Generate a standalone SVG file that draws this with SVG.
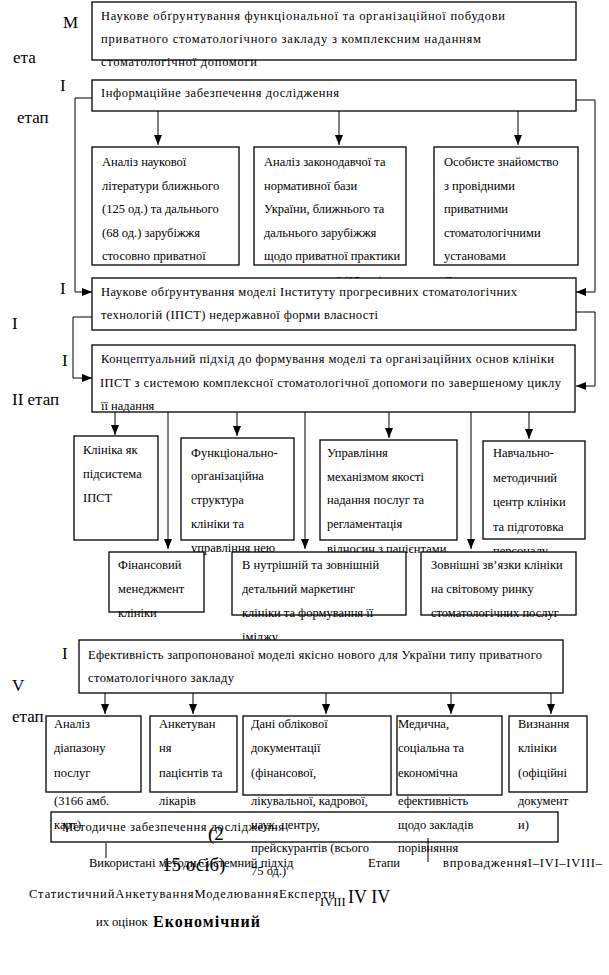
<svg xmlns="http://www.w3.org/2000/svg" width="609" height="975" viewBox="0 0 609 975">
<defs>
<style>
.t{font-family:"Liberation Serif","Times New Roman",serif;font-size:12.5px;fill:#000}
.s{font-family:"Liberation Serif","Times New Roman",serif;font-size:17px;fill:#000}
.b{fill:#fff;stroke:#000;stroke-width:1.3}
.o{fill:none;stroke:#000;stroke-width:1.3}
.l{fill:none;stroke:#000;stroke-width:1}
</style>
<marker id="a" viewBox="0 0 10 8" refX="10" refY="4" markerWidth="10" markerHeight="8" orient="auto" markerUnits="userSpaceOnUse"><path d="M0,0 L10,4 L0,8 z" fill="#000"/></marker>
</defs>
<rect width="609" height="975" fill="#fff"/>

<g id="side-labels">
<text class="s" x="63" y="28">М</text>
<text class="s" x="13" y="63">ета</text>
<text class="s" x="60" y="91">І</text>
<text class="s" x="17" y="123">етап</text>
<text class="s" x="60" y="294">І</text>
<text class="s" x="12" y="329">І</text>
<text class="s" x="62" y="366">І</text>
<text class="s" x="12" y="405">ІІ етап</text>
<text class="s" x="62" y="659">І</text>
<text class="s" x="12" y="691">V</text>
<text class="s" x="12" y="722">етап</text>
</g>

<g id="connectors">
<path class="l" d="M92,98 H75 V292 H92" marker-end="url(#a)"/>
<path class="l" d="M576,100 H595 V292 H576" marker-end="url(#a)"/>
<path class="l" d="M158,110 V145" marker-end="url(#a)"/>
<path class="l" d="M339,110 V145" marker-end="url(#a)"/>
<path class="l" d="M518,110 V145" marker-end="url(#a)"/>
<path class="l" d="M92,317 H73 V378 H92" marker-end="url(#a)"/>
<path class="l" d="M576,312 H595 V386 H576" marker-end="url(#a)"/>
<path class="l" d="M115,412 V435" marker-end="url(#a)"/>
<path class="l" d="M168,412 V549" marker-end="url(#a)"/>
<path class="l" d="M237,412 V436" marker-end="url(#a)"/>
<path class="l" d="M305,412 V549" marker-end="url(#a)"/>
<path class="l" d="M389,412 V438" marker-end="url(#a)"/>
<path class="l" d="M471,412 V549" marker-end="url(#a)"/>
<path class="l" d="M529,412 V439" marker-end="url(#a)"/>
<path class="l" d="M105,693 V714" marker-end="url(#a)"/>
<path class="l" d="M193,693 V714" marker-end="url(#a)"/>
<path class="l" d="M326,693 V714" marker-end="url(#a)"/>
<path class="l" d="M451,693 V714" marker-end="url(#a)"/>
<path class="l" d="M551,693 V714" marker-end="url(#a)"/>
<path class="l" d="M106,843 V858"/>
<path class="l" d="M428,838 V862"/>
</g>

<g id="n1">
<rect class="b" x="92" y="2" width="484" height="58"/>
<text class="t" x="101" y="20" textLength="404" lengthAdjust="spacing">Наукове обґрунтування функціональної та організаційної побудови</text>
<text class="t" x="101" y="43" textLength="380" lengthAdjust="spacing">приватного стоматологічного закладу з комплексним наданням</text>
<text class="t" x="101" y="66" textLength="156" lengthAdjust="spacing">стоматологічної допомоги</text>
</g>

<g id="n2">
<rect class="b" x="92" y="80" width="484" height="31"/>
<text class="t" x="101" y="97" textLength="238" lengthAdjust="spacing">Інформаційне забезпечення дослідження</text>
</g>

<g id="n2a">
<rect class="b" x="92" y="147" width="147" height="118"/>
<text class="t" x="102" y="166">Аналіз наукової</text>
<text class="t" x="102" y="190">літератури ближнього</text>
<text class="t" x="102" y="213">(125 од.) та дальнього</text>
<text class="t" x="102" y="237">(68 од.) зарубіжжя</text>
<text class="t" x="102" y="260">стосовно приватної</text>
</g>

<g id="n2b">
<rect class="b" x="254" y="147" width="152" height="118"/>
<text class="t" x="264" y="166">Аналіз законодавчої та</text>
<text class="t" x="264" y="190">нормативної бази</text>
<text class="t" x="264" y="213">України, ближнього та</text>
<text class="t" x="264" y="237">дальнього зарубіжжя</text>
<text class="t" x="264" y="260">щодо приватної практики</text>
<text class="t" x="337" y="285">ї (25 од.)</text>
</g>

<g id="n2c">
<rect class="b" x="434" y="147" width="144" height="118"/>
<text class="t" x="444" y="166">Особисте знайомство</text>
<text class="t" x="444" y="190">з провідними</text>
<text class="t" x="444" y="213">приватними</text>
<text class="t" x="444" y="237">стоматологічними</text>
<text class="t" x="444" y="260">установами</text>
<text class="t" x="444" y="285">С</text>
</g>

<g id="n3">
<rect class="b" x="92" y="278" width="484" height="52"/>
<text class="t" x="101" y="296" textLength="416" lengthAdjust="spacing">Наукове обґрунтування моделі Інституту прогресивних  стоматологічних</text>
<text class="t" x="101" y="319" textLength="277" lengthAdjust="spacing">технологій (ІПСТ) недержавної форми власності</text>
</g>

<g id="n4">
<rect class="b" x="92" y="345" width="483" height="67"/>
<text class="t" x="101" y="363" textLength="453" lengthAdjust="spacing">Концептуальний підхід до формування моделі та організаційних  основ клініки</text>
<text class="t" x="100" y="387" textLength="461" lengthAdjust="spacing">ІПСТ з  системою комплексної стоматологічної допомоги по завершеному циклу</text>
<text class="t" x="101" y="410">її надання</text>
</g>

<g id="n5a">
<rect class="b" x="74" y="436" width="84" height="104"/>
<text class="t" x="83" y="454">Клініка як</text>
<text class="t" x="83" y="478">підсистема</text>
<text class="t" x="83" y="502">ІПСТ</text>
</g>

<g id="n5b">
<rect class="b" x="181" y="438" width="113" height="102"/>
<text class="t" x="191" y="457">Функціонально-</text>
<text class="t" x="191" y="480">організаційна</text>
<text class="t" x="191" y="504">структура</text>
<text class="t" x="191" y="528">клініки та</text>
<text class="t" x="191" y="552">управління нею</text>
</g>

<g id="n5c">
<rect class="b" x="320" y="440" width="137" height="100"/>
<text class="t" x="327" y="457">Управління</text>
<text class="t" x="327" y="481">механізмом якості</text>
<text class="t" x="327" y="504">надання послуг та</text>
<text class="t" x="327" y="528">регламентація</text>
<text class="t" x="327" y="553">відносин з пацієнтами</text>
</g>

<g id="n5d">
<rect class="b" x="483" y="441" width="102" height="98"/>
<text class="t" x="493" y="457">Навчально-</text>
<text class="t" x="493" y="482">методичний</text>
<text class="t" x="493" y="506">центр клініки</text>
<text class="t" x="493" y="531">та підготовка</text>
<text class="t" x="493" y="555">персоналу</text>
</g>

<g id="n6a">
<rect class="b" x="109" y="552" width="95" height="60"/>
<text class="t" x="118" y="569">Фінансовий</text>
<text class="t" x="118" y="593">менеджмент</text>
<text class="t" x="118" y="617">клініки</text>
</g>

<g id="n6b">
<rect class="b" x="232" y="552" width="174" height="63"/>
<text class="t" x="242" y="569">В нутрішній та зовнішній</text>
<text class="t" x="242" y="593">детальний маркетинг</text>
<text class="t" x="242" y="617">клініки та формування її</text>
<text class="t" x="242" y="641">іміджу</text>
</g>

<g id="n6c">
<rect class="b" x="421" y="552" width="155" height="63"/>
<text class="t" x="431" y="569">Зовнішні зв’язки клініки</text>
<text class="t" x="431" y="593">на світовому ринку</text>
<text class="t" x="431" y="617">стоматологічних  послуг</text>
</g>

<g id="n7">
<rect class="b" x="79" y="640" width="484" height="53"/>
<text class="t" x="88" y="659" textLength="454" lengthAdjust="spacing">Ефективність запропонованої моделі якісно нового для України типу приватного</text>
<text class="t" x="88" y="682" textLength="146" lengthAdjust="spacing">стоматологічного закладу</text>
</g>

<g id="n8a">
<rect class="b" x="46" y="716" width="95" height="76"/>
<text class="t" x="54" y="728">Аналіз</text>
<text class="t" x="54" y="752">діапазону</text>
<text class="t" x="54" y="777">послуг</text>
<text class="t" x="54" y="805">(3166 амб.</text>
<text class="t" x="54" y="829">карт)</text>
</g>

<g id="n8b">
<rect class="b" x="150" y="716" width="87" height="76"/>
<text class="t" x="159" y="728">Анкетуван</text>
<text class="t" x="159" y="752">ня</text>
<text class="t" x="159" y="777">пацієнтів та</text>
<text class="t" x="159" y="805">лікарів</text>
<text x="208" y="840" style="font-family:'Liberation Serif',serif;font-size:19px">(2</text>
<text x="162" y="871" style="font-family:'Liberation Serif',serif;font-size:19px">15 осіб)</text>
</g>

<g id="n8c">
<rect class="b" x="243" y="716" width="148" height="79"/>
<text class="t" x="251" y="728">Дані облікової</text>
<text class="t" x="251" y="752">документації</text>
<text class="t" x="251" y="777">(фінансової,</text>
<text class="t" x="251" y="805">лікувальної, кадрової,</text>
<text class="t" x="251" y="829">наук. центру,</text>
<text class="t" x="251" y="852">прейскурантів (всього</text>
<text class="t" x="251" y="875">75 од.)</text>
</g>

<g id="n8d">
<rect class="b" x="397" y="716" width="105" height="79"/>
<text class="t" x="398" y="728">Медична,</text>
<text class="t" x="398" y="752">соціальна та</text>
<text class="t" x="398" y="777">економічна</text>
<text class="t" x="398" y="805">ефективність</text>
<text class="t" x="398" y="829">щодо закладів</text>
<text class="t" x="398" y="852">порівняння</text>
</g>

<g id="n8e">
<rect class="b" x="509" y="716" width="78" height="76"/>
<text class="t" x="518" y="728">Визнання</text>
<text class="t" x="518" y="752">клініки</text>
<text class="t" x="518" y="777">(офіційні</text>
<text class="t" x="518" y="805">документ</text>
<text class="t" x="518" y="829">и)</text>
</g>

<g id="n9">
<rect class="o" x="51" y="812" width="507" height="30"/>
<text class="t" x="62" y="831" textLength="222" lengthAdjust="spacing">Методичне забезпечення дослідження</text>
</g>

<g id="bottom-text">
<text class="t" x="89" y="867">Використані методи</text>
<text class="t" x="198" y="867">Системний підхід</text>
<text class="t" x="368" y="867">Етапи</text>
<text class="t" x="443" y="867" textLength="159" lengthAdjust="spacing">впровадженняI–IVI–IVIII–</text>
<text class="t" x="29" y="898" textLength="306" lengthAdjust="spacing">СтатистичнийАнкетуванняМоделюванняЕкспертн</text>
<text class="t" x="320" y="906">IVIII</text>
<text x="348" y="903" style="font-family:'Liberation Serif',serif;font-size:18px">IV IV</text>
<text class="t" x="96" y="926">их оцінок</text>
<text x="153" y="927" textLength="107" lengthAdjust="spacing" style="font-family:'Liberation Serif',serif;font-size:16px;font-weight:bold">Економічний</text>
</g>
</svg>
